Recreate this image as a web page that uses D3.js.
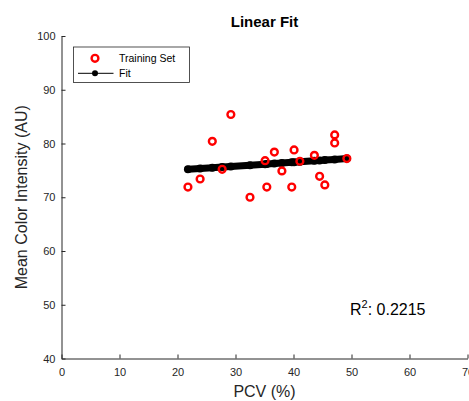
<!DOCTYPE html>
<html>
<head>
<meta charset="utf-8">
<script src="https://cdn.jsdelivr.net/npm/d3@7"></script>
<style>
  body { margin: 0; background: #fff; }
  text { font-family: Arial, "Liberation Sans", sans-serif; fill: #262626; }
</style>
</head>
<body>
<div id="chart"></div>
<script>
// training set values
const pcv = [21.8, 23.9, 26.0, 29.2, 27.7, 32.5, 35.1, 35.4, 36.7, 38.0,
  39.7, 40.1, 41.1, 43.6, 44.5, 45.4, 47.1, 47.1, 49.2]
const intensity = [71.9, 73.4, 80.4, 85.4, 75.2, 70.0, 76.8, 71.9, 78.4, 74.9,
  71.9, 78.8, 76.7, 77.8, 73.9, 72.3, 81.6, 80.1, 77.2]

// fitted line, evaluated at the training x values
const fitX = [21.8, 23.9, 26.0, 27.7, 29.2, 32.5, 35.1, 35.4, 36.7, 38.0,
  39.7, 40.1, 41.1, 43.6, 44.5, 45.4, 47.1, 49.2]
const fitY = [75.2, 75.35, 75.5, 75.62, 75.73, 75.97, 76.16, 76.18, 76.28, 76.37,
  76.5, 76.53, 76.6, 76.78, 76.84, 76.91, 77.03, 77.2]

const xTicks = [0, 10, 20, 30, 40, 50, 60, 70]
const yTicks = [40, 50, 60, 70, 80, 90, 100]
const rSquared = '0.2215'

const width = 469
const height = 401
const margin = { top: 36, right: 2, bottom: 43, left: 61.5 }
const innerW = 467.5 - margin.left
const innerH = 358.5 - margin.top

const svg = d3.select('#chart').append('svg')
  .attr('width', width)
  .attr('height', height)

const g = svg.append('g')
  .attr('transform', 'translate(' + margin.left + ',' + margin.top + ')')

const x = d3.scaleLinear().domain([0, 70]).range([0, innerW])
const y = d3.scaleLinear().domain([40, 100]).range([innerH, 0])

// axes, ticks pointing inward like matlab
const xAxis = g.append('g')
  .attr('transform', 'translate(0,' + innerH + ')')
  .call(d3.axisBottom(x).tickValues(xTicks).tickSize(-4).tickSizeOuter(0).tickPadding(8))
const yAxis = g.append('g')
  .call(d3.axisLeft(y).tickValues(yTicks).tickSize(-4).tickSizeOuter(0).tickPadding(6))

;[xAxis, yAxis].forEach((a) => {
  a.select('.domain').attr('stroke', '#262626')
  a.selectAll('.tick line').attr('stroke', '#262626')
  a.selectAll('.tick text')
    .attr('font-size', 11)
    .attr('font-family', 'Arial, "Liberation Sans", sans-serif')
    .attr('fill', '#262626')
})
xAxis.selectAll('.tick text').attr('dy', '0.88em')

// fit line
const line = d3.line().x((d, i) => x(fitX[i])).y((d) => y(d))
g.append('path')
  .datum(fitY)
  .attr('d', line)
  .attr('fill', 'none')
  .attr('stroke', '#000')
  .attr('stroke-width', 7)
  .attr('stroke-linecap', 'round')

g.selectAll('.fitdot')
  .data(fitY)
  .enter()
  .append('circle')
  .attr('class', 'fitdot')
  .attr('cx', (d, i) => x(fitX[i]))
  .attr('cy', (d) => y(d))
  .attr('r', 4)
  .attr('fill', '#000')

// training points
g.selectAll('.pt')
  .data(intensity)
  .enter()
  .append('circle')
  .attr('class', 'pt')
  .attr('cx', (d, i) => x(pcv[i]))
  .attr('cy', (d) => y(d))
  .attr('r', 3.4)
  .attr('fill', 'none')
  .attr('stroke', '#ff0000')
  .attr('stroke-width', 2.4)

// title and labels
svg.append('text')
  .attr('x', margin.left + innerW / 2)
  .attr('y', 27)
  .attr('text-anchor', 'middle')
  .attr('font-size', 15)
  .attr('font-weight', 'bold')
  .style('fill', '#000')
  .text('Linear Fit')

svg.append('text')
  .attr('x', margin.left + innerW / 2)
  .attr('y', 397)
  .attr('text-anchor', 'middle')
  .attr('font-size', 16)
  .text('PCV (%)')

svg.append('text')
  .attr('transform', 'translate(27,' + (margin.top + innerH / 2) + ') rotate(-90)')
  .attr('text-anchor', 'middle')
  .attr('font-size', 16)
  .text('Mean Color Intensity (AU)')

const r2 = svg.append('text')
  .attr('x', 350)
  .attr('y', 315)
  .attr('font-size', 16)
  .style('fill', '#000')
r2.append('tspan').text('R')
r2.append('tspan').attr('font-size', 11).attr('dy', -7).text('2')
r2.append('tspan').attr('dy', 7).text(': ' + rSquared)

// legend
const legend = svg.append('g').attr('transform', 'translate(73.5,47)')
legend.append('rect')
  .attr('width', 116)
  .attr('height', 35.5)
  .attr('fill', '#fff')
  .attr('stroke', '#262626')
  .attr('stroke-width', 0.8)
legend.append('circle')
  .attr('cx', 21.5)
  .attr('cy', 11.3)
  .attr('r', 3.4)
  .attr('fill', 'none')
  .attr('stroke', '#ff0000')
  .attr('stroke-width', 2.4)
legend.append('line')
  .attr('x1', 4.5).attr('x2', 40)
  .attr('y1', 26.3).attr('y2', 26.3)
  .attr('stroke', '#000')
  .attr('stroke-width', 1)
legend.append('circle')
  .attr('cx', 21.5)
  .attr('cy', 26.3)
  .attr('r', 3)
  .attr('fill', '#000')
legend.append('text')
  .attr('x', 45.5)
  .attr('y', 15)
  .attr('font-size', 10.5)
  .style('fill', '#000')
  .text('Training Set')
legend.append('text')
  .attr('x', 45.5)
  .attr('y', 30)
  .attr('font-size', 10.5)
  .style('fill', '#000')
  .text('Fit')
</script>
</body>
</html>
